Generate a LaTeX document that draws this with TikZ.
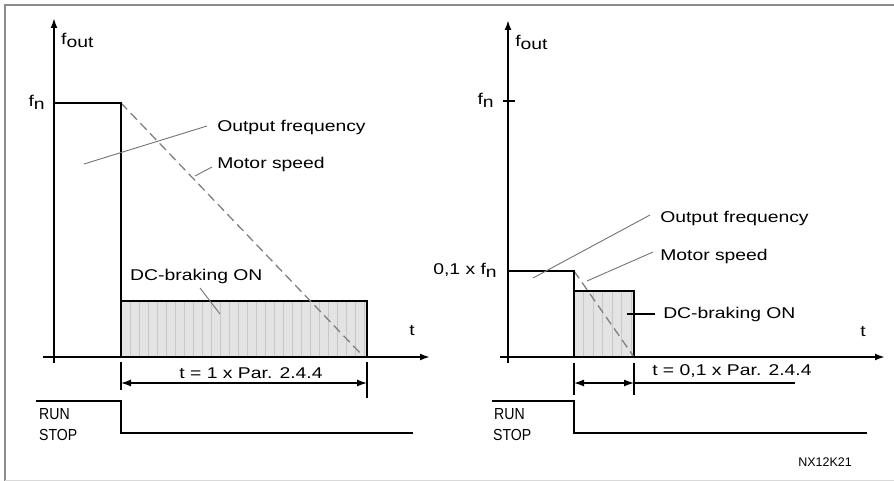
\documentclass[tikz,border=0pt]{standalone}
\usepackage{fontspec}
\setmainfont{Liberation Sans}
\usetikzlibrary{arrows.meta}

\newcommand{\lowr}[1]{\raisebox{-3pt}{#1}}

\tikzset{
	lbl/.style={font=\fontsize{15.6}{18}\selectfont,xscale=1.24,inner sep=0pt},
	runstop/.style={font=\fontsize{16}{18}\selectfont,xscale=0.88,inner sep=0pt,anchor=west},
	axis/.style={line width=2pt,->},
	freq/.style={line width=1.6pt},
	leader/.style={black!55,line width=0.9pt},
	speed/.style={black!50,line width=1.3pt,dash pattern=on 9pt off 5pt},
	brake/.style={fill=black!11,draw=none},
	hatch/.style={black!22,line width=0.8pt},
	dim/.style={line width=1.3pt},
}

\begin{document}
\begin{tikzpicture}[x=1pt,y=-1pt,>={Latex[length=10pt,width=7pt]}]
		\useasboundingbox (0,0) rectangle (894,481);
		% frame
		\draw[black!45,line width=2pt] (894,5) -- (5,5) -- (5,481);
		\draw[black!15,line width=1pt] (5,480) -- (894,480);

		% left: t = 1 x Par. 2.4.4
		\coordinate (a0) at (54,357);
		\coordinate (afn) at (54,103);
		\coordinate (astep) at (121,103);
		\coordinate (afoot) at (121,357);
		\coordinate (abrk) at (121,301);
		\coordinate (aend) at (367,357);
		\coordinate (aspd) at (362,355);
		\fill[brake] (abrk) rectangle (aend);
		\foreach \x in {130,139,...,366}
			\draw[hatch] (\x,302) -- (\x,356);
		\draw[freq] (abrk) -| (aend);
		\draw[speed] (astep) -- (aspd);
		\draw[freq] (afn) -- (astep) -- (afoot);
		\draw[axis] (54,363) -- (54,18);
		\draw[axis] (43,357) -- (430,357);
		\node[lbl,anchor=west] (afout) at (61,40) {f\lowr{out}};
		\node[lbl,anchor=east] (afnl) at (45,102) {f\lowr{n}};
		\node[lbl,anchor=west] (at) at (409,331) {t};
		\node[lbl,anchor=west] (aof) at (217,127) {Output frequency};
		\node[lbl,anchor=west] (ams) at (217,164) {Motor speed};
		\node[lbl,anchor=west] (adc) at (130,276) {DC-braking ON};
		\coordinate (aofp) at (84,164);
		\coordinate (amsp) at (195,176);
		\coordinate (adcp) at (220,314);
		\draw[leader] (aofp) -- ([xshift=-10pt,yshift=1pt]aof.west);
		\draw[leader] (amsp) -- ([xshift=-5pt,yshift=-3pt]ams.west);
		\draw[leader] (adcp) -- (200,288);
		\coordinate (ad1) at (121,383);
		\coordinate (ad2) at (367,383);
		\draw[dim] (121,362) -- (121,390);
		\draw[dim] (367,362) -- (367,398);
		\draw[dim,<->] (ad1) -- (ad2);
		\node[lbl] (apar) at (251,373) {t = 1 x Par. 2.4.4};
		\coordinate (arun) at (36,401);
		\coordinate (aoff) at (121,433);
		\draw[freq] (arun) -| (aoff) -- (413,433);
		\node[runstop] (arunl) at (39,414) {RUN};
		\node[runstop] (astopl) at (39,435) {STOP};

		% right: t = 0,1 x Par. 2.4.4
		\coordinate (b0) at (508,357);
		\coordinate (bfn) at (508,271);
		\coordinate (bstep) at (574,271);
		\coordinate (bfoot) at (574,357);
		\coordinate (bbrk) at (574,291);
		\coordinate (bend) at (634,357);
		\fill[brake] (bbrk) rectangle (bend);
		\foreach \x in {583.5,593,...,633}
			\draw[hatch] (\x,292) -- (\x,356);
		\draw[freq] (bbrk) -| (bend);
		\draw[speed] (bstep) -- (bend);
		\draw[freq] (bfn) -- (bstep) -- (bfoot);
		\draw[axis] (508,363) -- (508,20);
		\draw[axis] (500,357) -- (885,357);
		\draw[freq] (503,101) -- (515,101);
		\node[lbl,anchor=west] (bfout) at (515,42) {f\lowr{out}};
		\node[lbl,anchor=east] (bfnl) at (494,100) {f\lowr{n}};
		\node[lbl,anchor=east] (bfnt) at (497,270) {0,1 x f\lowr{n}};
		\node[lbl,anchor=west] (bt) at (860,332) {t};
		\node[lbl,anchor=west] (bof) at (660,218) {Output frequency};
		\node[lbl,anchor=west] (bms) at (660,256) {Motor speed};
		\node[lbl,anchor=west] (bdc) at (663,314) {DC-braking ON};
		\coordinate (bofp) at (533,278);
		\coordinate (bmsp) at (587,281);
		\coordinate (bdcp) at (627,314);
		\draw[leader] (bofp) -- ([xshift=-10pt,yshift=3pt]bof.west);
		\draw[leader] (bmsp) -- ([xshift=-7pt,yshift=4pt]bms.west);
		\draw[dim] (bdcp) -- ([xshift=-8pt]bdc.west);
		\coordinate (bd1) at (574,383);
		\coordinate (bd2) at (634,383);
		\draw[dim] (574,363) -- (574,395);
		\draw[dim] (634,363) -- (634,395);
		\draw[dim,<->] (bd1) -- (bd2);
		\node[lbl,anchor=west] (bpar) at (652,371) {t = 0,1 x Par. 2.4.4};
		\draw[dim] (bd2) -- (795,383);
		\coordinate (brun) at (492,401);
		\coordinate (boff) at (574,433);
		\draw[freq] (brun) -| (boff) -- (867,433);
		\node[runstop] (brunl) at (494,414) {RUN};
		\node[runstop] (bstopl) at (493,435) {STOP};
		\node[font=\fontsize{12.5}{14}\selectfont,inner sep=0pt] (code) at (825,462) {NX12K21};
\end{tikzpicture}
\end{document}
